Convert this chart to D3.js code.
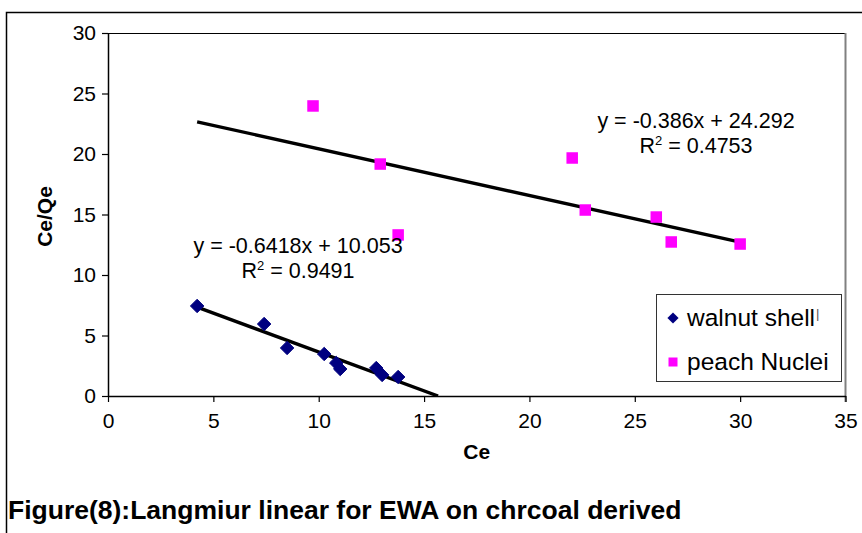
<!DOCTYPE html>
<html>
<head>
<meta charset="utf-8">
<script src="https://cdn.jsdelivr.net/npm/d3@7"></script>
<style>
  body { margin: 0; background: #fff; }
  svg { display: block; font-family: Arial, "Liberation Sans", sans-serif; }
</style>
</head>
<body>
<svg id="chart" width="862" height="533"></svg>
<script>
// Langmuir linear plot: Ce/Qe against Ce for two sorbents
const walnutCe   = [4.23, 7.41, 8.50, 10.26, 10.83, 11.02, 12.73, 13.01, 13.77];
const walnutCeQe = [7.44, 5.95, 3.97, 3.47, 2.73, 2.23, 2.31, 1.74, 1.57];
const peachCe    = [9.73, 12.92, 13.77, 22.03, 22.65, 26.02, 26.73, 30.0];
const peachCeQe  = [23.97, 19.17, 13.31, 19.67, 15.37, 14.79, 12.73, 12.56];
const seriesNames = ["walnut shell", "peach Nuclei"];
const walnutFit = { slope: -0.6418, intercept: 10.053, r2: "0.9491", label: "y = -0.6418x + 10.053" };
const peachFit  = { slope: -0.386,  intercept: 24.292, r2: "0.4753", label: "y = -0.386x + 24.292" };
const xTicks = [0, 5, 10, 15, 20, 25, 30, 35];
const yTicks = [0, 5, 10, 15, 20, 25, 30];
const xTitle = "Ce";
const yTitle = "Ce/Qe";
const caption = "Figure(8):Langmiur linear for EWA on chrcoal derived";

const svg = d3.select("#chart");
const plot = { left: 108, right: 845.5, top: 33, bottom: 396 };

const x = d3.scaleLinear().domain([0, 35]).range([plot.left, plot.right]);
const y = d3.scaleLinear().domain([0, 30]).range([plot.bottom, plot.top]);

// outer chart frame (top and left edges visible)
svg.append("path")
  .attr("d", "M6.5,533 L6.5,12.5 L862,12.5")
  .attr("fill", "none").attr("stroke", "#000").attr("stroke-width", 1.5);

// plot area border
svg.append("line")
  .attr("x1", plot.left).attr("x2", plot.right)
  .attr("y1", plot.top + 0.5).attr("y2", plot.top + 0.5)
  .attr("stroke", "#000").attr("stroke-width", 1.2);
svg.append("line")
  .attr("x1", plot.right).attr("x2", plot.right)
  .attr("y1", plot.top).attr("y2", plot.bottom + 6)
  .attr("stroke", "#808080").attr("stroke-width", 2);

// axes
const xAxis = d3.axisBottom(x).tickValues(xTicks).tickSize(6).tickSizeOuter(0).tickPadding(11);
const yAxis = d3.axisLeft(y).tickValues(yTicks).tickSize(6).tickSizeOuter(0).tickPadding(6);

const gx = svg.append("g").attr("transform", `translate(0,${plot.bottom})`).call(xAxis);
const gy = svg.append("g").attr("transform", `translate(${plot.left},0)`).call(yAxis);
[gx, gy].forEach(g => {
  g.select(".domain").attr("stroke", "#000").attr("stroke-width", 1.5);
  g.selectAll(".tick line").attr("stroke", "#000").attr("stroke-width", 1.2);
  g.selectAll(".tick text").attr("fill", "#000")
    .style("font-family", "Arial, 'Liberation Sans', sans-serif").style("font-size", "21px");
});

// axis titles
svg.append("text")
  .attr("x", x(17.5)).attr("y", 459)
  .attr("text-anchor", "middle").attr("font-weight", "bold").attr("font-size", 21)
  .text(xTitle);
svg.append("text")
  .attr("transform", `translate(52,${y(15) + 2}) rotate(-90)`)
  .attr("text-anchor", "middle").attr("font-weight", "bold").attr("font-size", 21)
  .text(yTitle);

// trend lines
svg.append("defs").append("clipPath").attr("id", "plotClip")
  .append("rect").attr("x", plot.left).attr("y", plot.top)
  .attr("width", plot.right - plot.left).attr("height", plot.bottom - plot.top);

const fitLine = (fit, x0, x1) => [[x0, fit.slope * x0 + fit.intercept], [x1, fit.slope * x1 + fit.intercept]];
const line = d3.line().x(d => x(d[0])).y(d => y(d[1]));

const walnutEnd = -walnutFit.intercept / walnutFit.slope;
const startCe = d3.min(walnutCe);
const lines = svg.append("g").attr("clip-path", "url(#plotClip)");
lines.append("path").attr("d", line(fitLine(walnutFit, startCe, walnutEnd)))
  .attr("stroke", "#000").attr("stroke-width", 3.4).attr("fill", "none");
lines.append("path").attr("d", line(fitLine(peachFit, startCe, d3.max(peachCe))))
  .attr("stroke", "#000").attr("stroke-width", 3.4).attr("fill", "none");

// markers
const diamond = d3.symbol().type(d3.symbolDiamond2).size(115);
svg.append("g").selectAll("path").data(d3.zip(walnutCe, walnutCeQe)).join("path")
  .attr("transform", d => `translate(${x(d[0])},${y(d[1])})`)
  .attr("d", diamond)
  .attr("fill", "#000080").attr("stroke", "#000080").attr("stroke-width", 1);

const sq = 11.5;
svg.append("g").selectAll("rect").data(d3.zip(peachCe, peachCeQe)).join("rect")
  .attr("x", d => x(d[0]) - sq / 2).attr("y", d => y(d[1]) - sq / 2)
  .attr("width", sq).attr("height", sq)
  .attr("fill", "#ff00ff");

// equation labels
function eqLabel(fit, cx, y1) {
  const g = svg.append("g").attr("font-size", 21.5).attr("fill", "#000");
  g.append("text").attr("x", cx).attr("y", y1).attr("text-anchor", "middle").text(fit.label);
  const t = g.append("text").attr("x", cx).attr("y", y1 + 25).attr("text-anchor", "middle");
  t.append("tspan").text("R");
  t.append("tspan").attr("font-size", 13).attr("dy", -8).text("2");
  t.append("tspan").attr("dy", 8).text(" = " + fit.r2);
}
eqLabel(walnutFit, 298, 253);
eqLabel(peachFit, 696, 128);

// legend
const lg = svg.append("g");
lg.append("rect").attr("x", 656.5).attr("y", 294.5).attr("width", 185).attr("height", 87)
  .attr("fill", "#fff").attr("stroke", "#333").attr("stroke-width", 1);
lg.append("path").attr("transform", "translate(673,318)")
  .attr("d", d3.symbol().type(d3.symbolDiamond2).size(80))
  .attr("fill", "#000080");
lg.append("rect").attr("x", 668.5).attr("y", 357.5).attr("width", 9).attr("height", 9)
  .attr("fill", "#ff00ff");
const t1 = lg.append("text").attr("x", 687).attr("y", 326).attr("font-size", 24.5).text(seriesNames[0]);
t1.append("tspan").attr("font-size", 13).attr("fill", "#555").attr("dx", 1).attr("dy", -8).text("|");
lg.append("text").attr("x", 687).attr("y", 370).attr("font-size", 24.5).text(seriesNames[1]);

// caption
svg.append("text").attr("x", 8).attr("y", 519)
  .attr("font-weight", "bold").attr("font-size", 26.5)
  .text(caption);
</script>
</body>
</html>
